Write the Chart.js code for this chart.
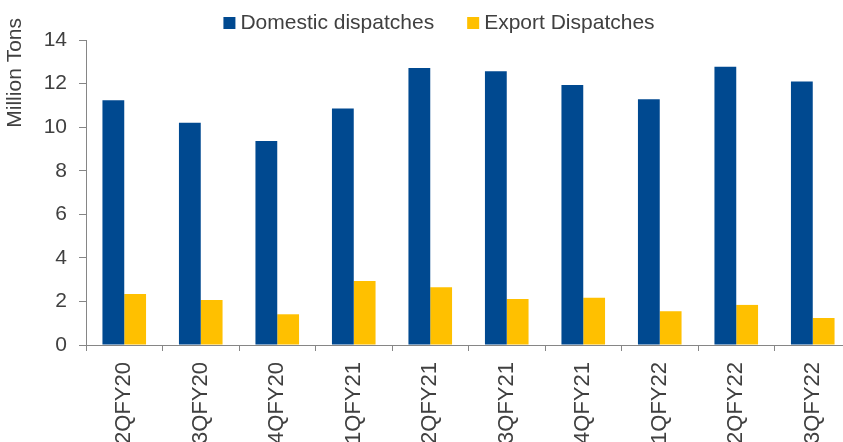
<!DOCTYPE html>
<html>
<head>
<meta charset="utf-8">
<script src="https://cdn.jsdelivr.net/npm/chart.js@4/dist/chart.umd.min.js"></script>
<style>
  html, body { margin: 0; padding: 0; background: #fff; overflow: hidden; }
  #wrap { position: relative; width: 870px; height: 470px; }
</style>
</head>
<body>
<div id="wrap"><canvas id="dispatch-chart" width="870" height="470"></canvas></div>
<script>
// Quarterly dispatches, million tons
const quarters = ['2QFY20', '3QFY20', '4QFY20', '1QFY21', '2QFY21', '3QFY21', '4QFY21', '1QFY22', '2QFY22', '3QFY22'];
const domesticDispatches = [11.24, 10.2, 9.36, 10.86, 12.71, 12.57, 11.93, 11.28, 12.77, 12.1];
const exportDispatches = [2.34, 2.07, 1.41, 2.94, 2.65, 2.11, 2.17, 1.55, 1.84, 1.24];
const yTicks = [0, 2, 4, 6, 8, 10, 12, 14];

const FONT = "'Liberation Sans', Arial, sans-serif";
const TEXT = '#404040';
const AXIS = '#868686';

// legend row + rotated axis title, drawn on top of the chart
const headerPlugin = {
    id: 'header',
    afterDraw(chart) {
        const ctx = chart.ctx;
        ctx.save();
        ctx.font = '21px ' + FONT;
        ctx.fillStyle = TEXT;

        const box = 12, gap = 5, spacing = 33;
        const items = chart.data.datasets.map(ds => ({
            label: ds.label,
            color: ds.backgroundColor,
            width: box + gap + ctx.measureText(ds.label).width
        }));
        const total = items.reduce((s, it) => s + it.width, 0) + spacing * (items.length - 1);
        let x = 439 - total / 2;
        items.forEach(it => {
            ctx.fillStyle = it.color;
            ctx.fillRect(x, 17, box, box);
            ctx.fillStyle = TEXT;
            ctx.textBaseline = 'alphabetic';
            ctx.textAlign = 'left';
            ctx.fillText(it.label, x + box + gap, 29);
            x += it.width + spacing;
        });

        // y axis title, aligned to the top of the axis
        ctx.translate(15, 18);
        ctx.rotate(-Math.PI / 2);
        ctx.textAlign = 'right';
        ctx.textBaseline = 'middle';
        ctx.fillText('Million Tons', 0, 0);
        ctx.restore();
    }
};

new Chart(document.getElementById('dispatch-chart'), {
    type: 'bar',
    data: {
        labels: quarters,
        datasets: [{
            label: 'Domestic dispatches',
            data: domesticDispatches,
            backgroundColor: '#004990',
            borderWidth: 0,
            categoryPercentage: 0.57,
            barPercentage: 1.0
        }, {
            label: 'Export Dispatches',
            data: exportDispatches,
            backgroundColor: '#FFC000',
            borderWidth: 0,
            categoryPercentage: 0.57,
            barPercentage: 1.0
        }]
    },
    options: {
        responsive: false,
        animation: false,
        devicePixelRatio: 1,
        layout: {
            padding: { top: 40, left: 0, right: 19, bottom: 0 }
        },
        plugins: {
            legend: { display: false },
            tooltip: { enabled: false }
        },
        scales: {
            x: {
                afterFit: scale => { scale.height = 125; },
                grid: {
                    drawOnChartArea: false,
                    drawTicks: true,
                    tickLength: 6,
                    color: AXIS,
                    offset: true
                },
                border: { color: AXIS, width: 1 },
                ticks: {
                    color: TEXT,
                    font: { family: FONT, size: 22 },
                    minRotation: 90,
                    maxRotation: 90,
                    padding: 11,
                    autoSkip: false
                }
            },
            y: {
                min: 0,
                max: 14,
                afterFit: scale => { scale.width = 86; },
                afterBuildTicks: scale => {
                    scale.ticks = yTicks.map(v => ({ value: v }));
                },
                grid: {
                    drawOnChartArea: false,
                    drawTicks: true,
                    tickLength: 7,
                    color: AXIS
                },
                border: { color: AXIS, width: 1 },
                ticks: {
                    color: TEXT,
                    font: { family: FONT, size: 21 },
                    padding: 12
                }
            }
        }
    },
    plugins: [headerPlugin]
});
</script>
</body>
</html>
